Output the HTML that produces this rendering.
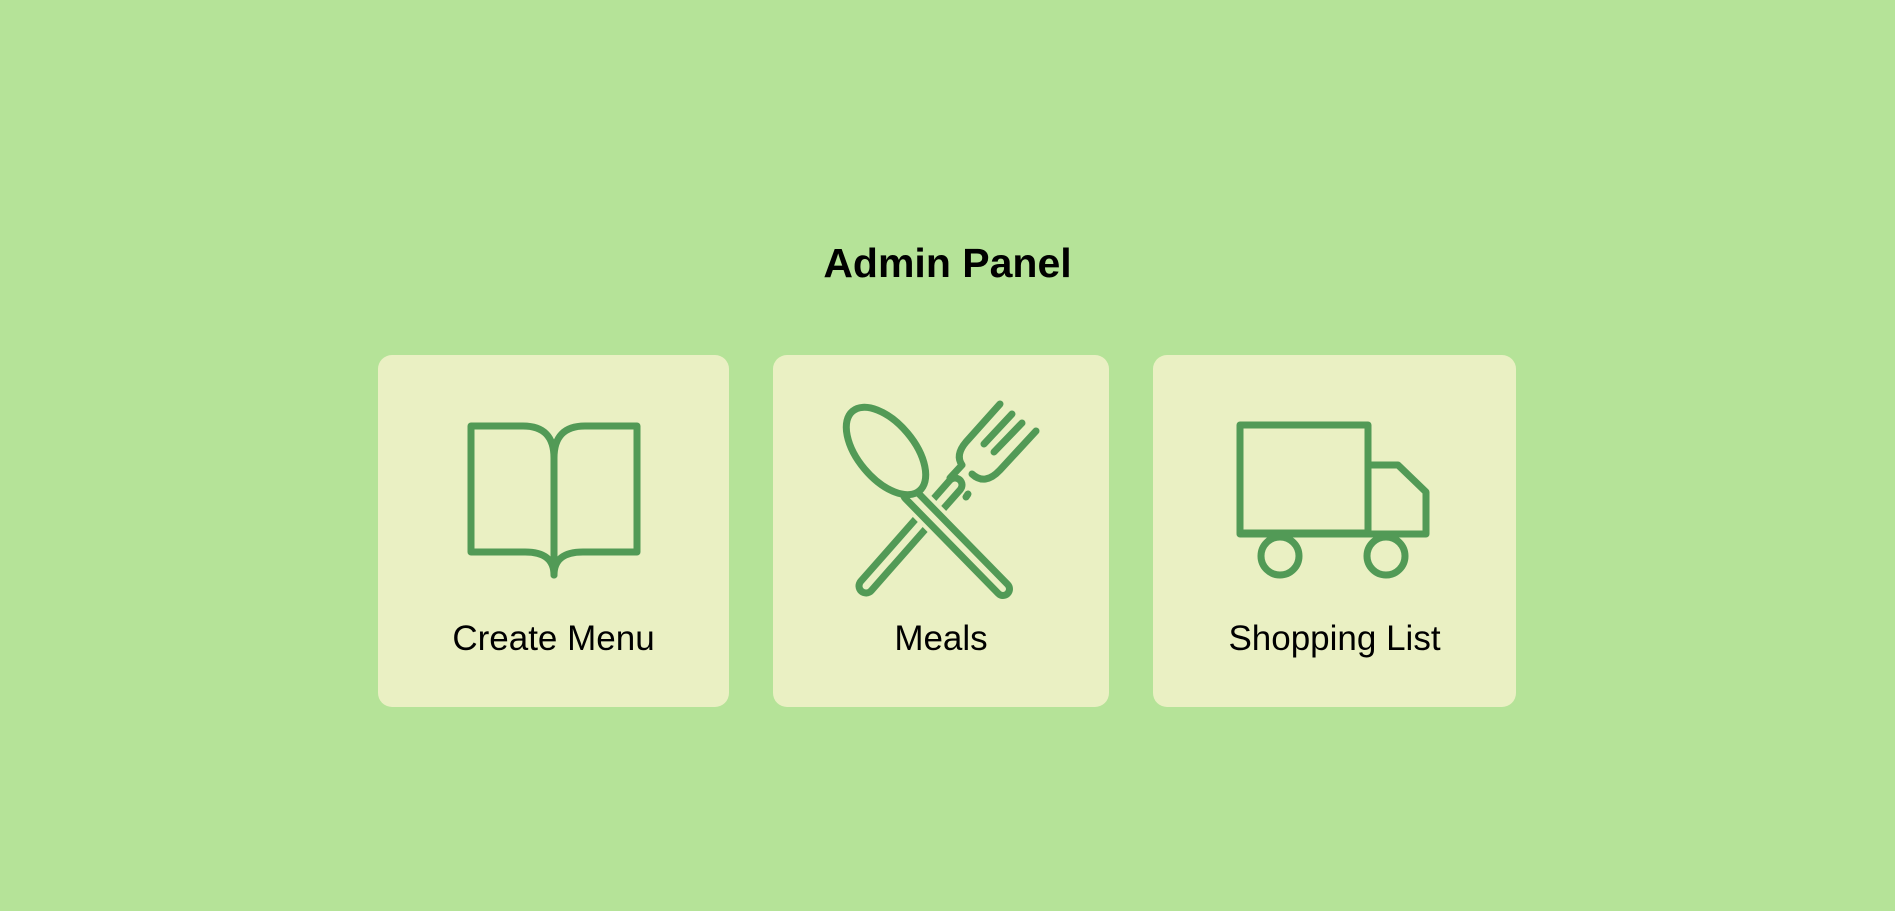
<!DOCTYPE html>
<html><head><style>
html,body{margin:0;padding:0;width:1895px;height:911px;background:#b5e398;overflow:hidden;font-family:"Liberation Sans",sans-serif}
.card{position:absolute;top:355px;height:352px;background:#eaf0c3;border-radius:14px}
.t{position:absolute;width:100%;text-align:center;top:619px;font-size:35px;color:#000}
h1{position:absolute;margin:0;top:240px;left:0;width:1895px;text-align:center;font-size:41px;font-weight:bold}
</style></head><body>
<h1>Admin Panel</h1>
<div class="card" style="left:378px;width:351px"></div>
<div class="card" style="left:773px;width:336px"></div>
<div class="card" style="left:1153px;width:363px"></div>
<div class="t" style="left:378px;width:351px">Create Menu</div>
<div class="t" style="left:773px;width:336px">Meals</div>
<div class="t" style="left:1153px;width:363px">Shopping List</div>
<svg width="1895" height="911" style="position:absolute;left:0;top:0" fill="none" stroke="#529a56" stroke-width="7" stroke-linecap="round" stroke-linejoin="round">
<path d="M554,575 L554,458 Q554,426 523,426 L471,426 L471,552 L525,552 Q554,552 554,575"/>
<path d="M554,458 Q554,426 585,426 L637,426 L637,552 L583,552 Q554,552 554,575"/>
<line x1="955" y1="485" x2="866" y2="586" stroke-width="21"/>
<line x1="955" y1="485" x2="866" y2="586" stroke-width="7" stroke="#eaf0c3"/>
<line x1="908" y1="492" x2="1003" y2="589" stroke-width="28" stroke="#eaf0c3"/>
<line x1="910" y1="494" x2="1003" y2="589" stroke-width="20"/>
<line x1="910" y1="494" x2="1003" y2="589" stroke-width="6" stroke="#eaf0c3"/>
<ellipse cx="886" cy="451" rx="28" ry="52" transform="rotate(-40 886 451)" fill="#eaf0c3"/>
<path d="M950,478 L962,465 Q955,455 966,442 L1000,404"/>
<line x1="984" y1="444" x2="1012" y2="414"/>
<line x1="994" y1="452" x2="1022" y2="423"/>
<path d="M972,474 Q985,486 1000,470 L1036,431"/>
<line x1="968" y1="494" x2="966" y2="497"/>
<rect x="1240" y="425" width="128" height="108"/>
<path d="M1368,465 L1398,465 L1426,492 L1426,534 L1240,534"/>
<circle cx="1280" cy="556" r="19" fill="#eaf0c3"/>
<circle cx="1386" cy="556" r="19" fill="#eaf0c3"/>
</svg>
</body></html>
